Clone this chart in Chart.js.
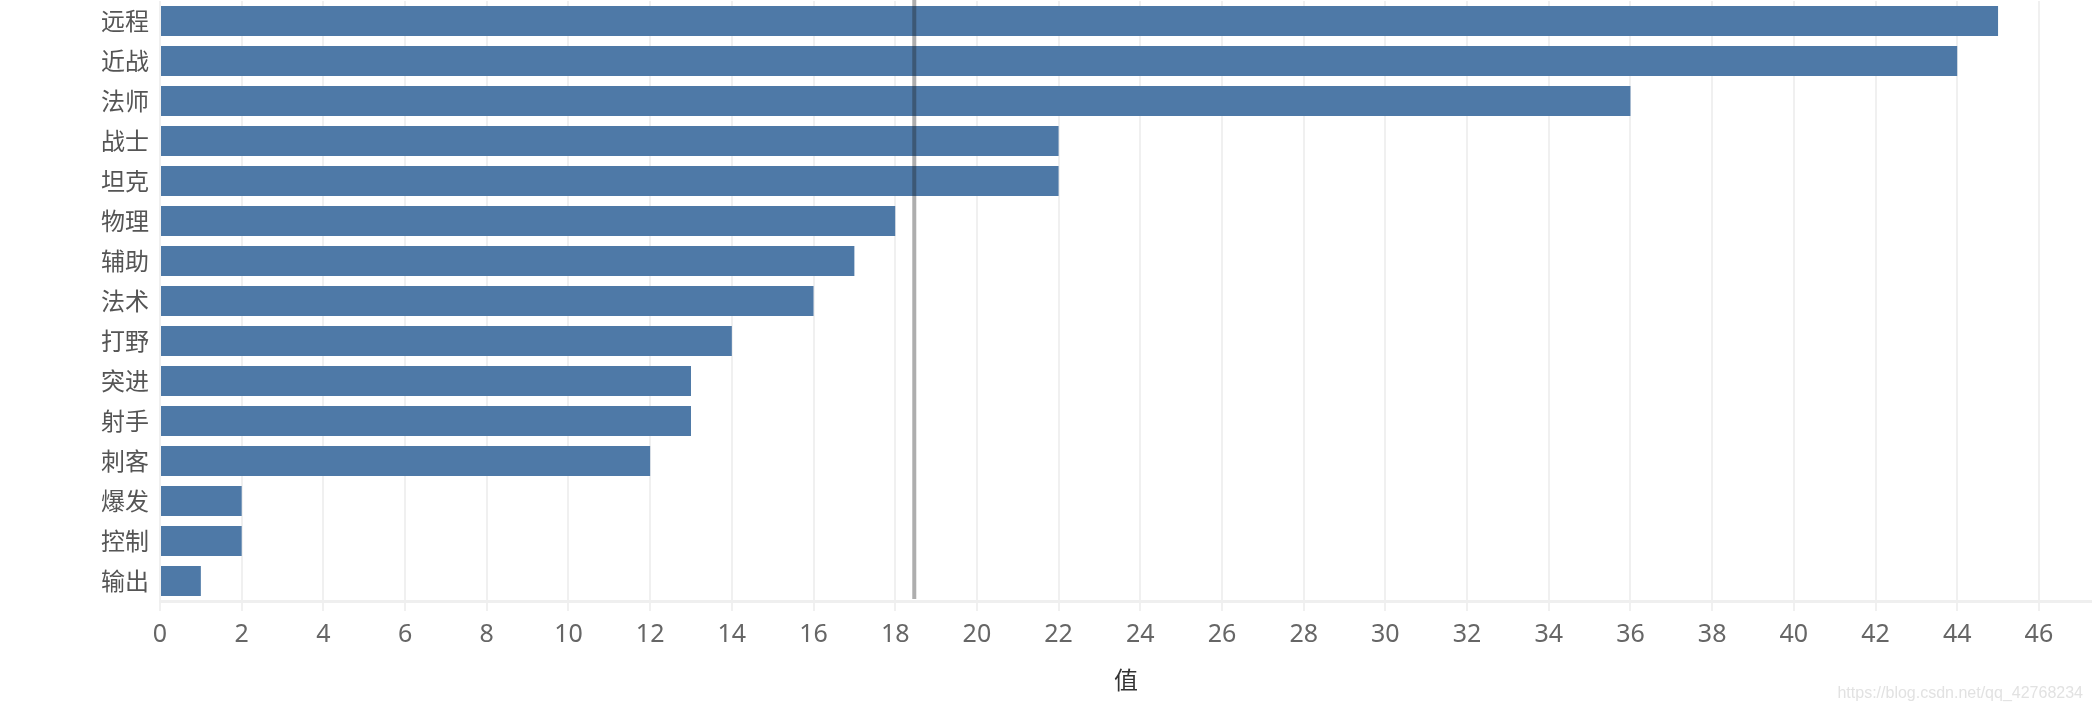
<!DOCTYPE html>
<html>
<head>
<meta charset="utf-8">
<script src="https://cdn.jsdelivr.net/npm/chart.js@4"></script>
<style>
html,body{margin:0;padding:0;background:#fff;}
#wrap{width:2092px;height:712px;position:relative;}
</style>
</head>
<body>
<div id="wrap"><canvas id="c"></canvas></div>
<script>
const categories = ['远程','近战','法师','战士','坦克','物理','辅助','法术','打野','突进','射手','刺客','爆发','控制','输出'];
const values = [45,44,36,22,22,18,17,16,14,13,13,12,2,2,1];
const axisTitle = '值';
const watermark = 'https://blog.csdn.net/qq_42768234';

const meanValue = values.reduce((a,b)=>a+b,0)/values.length;

const refLine = {
  id:'refLine',
  afterDatasetsDraw(chart){
    const {ctx, chartArea, scales} = chart;
    const x = scales.x.getPixelForValue(meanValue);
    ctx.save();
    ctx.strokeStyle = 'rgba(30,30,30,0.36)';
    ctx.lineWidth = 4;
    ctx.beginPath();
    ctx.moveTo(x, 0);
    ctx.lineTo(x, chartArea.bottom - 2);
    ctx.stroke();
    ctx.restore();
  },
  afterDraw(chart){
    const ctx = chart.ctx;
    ctx.save();
    ctx.font = '16px "Liberation Sans", Arial, sans-serif';
    ctx.fillStyle = '#e2e2e2';
    ctx.textAlign = 'right';
    ctx.textBaseline = 'middle';
    ctx.fillText(watermark, 2083, 694);
    ctx.restore();
  }
};

new Chart(document.getElementById('c'), {
  type:'bar',
  data:{
    labels:categories,
    datasets:[{
      data:values,
      backgroundColor:'#4e79a7',
      borderWidth:0,
      categoryPercentage:1.0,
      barPercentage:0.75
    }]
  },
  options:{
    indexAxis:'y',
    responsive:true,
    maintainAspectRatio:false,
    devicePixelRatio:1,
    animation:false,
    layout:{padding:{top:1,right:0,left:0,bottom:0}},
    plugins:{legend:{display:false},tooltip:{enabled:false}},
    scales:{
      x:{
        type:'linear',
        min:0,
        max:47.3,
        afterFit(s){ s.height = 111; s.paddingLeft = 0; s.paddingRight = 0; },
        grid:{
          color:'#f0f0f0',
          lineWidth:2,
          drawTicks:true,
          tickLength:10,
          tickColor:'#f0f0f0'
        },
        border:{display:true,color:'#efefef',width:3},
        ticks:{
          stepSize:2,
          includeBounds:false,
          color:'#666',
          font:{family:'"Noto Sans", "Noto Sans CJK SC", sans-serif',size:25},
          padding:9,
          maxRotation:0,
          autoSkip:false
        },
        title:{
          display:true,
          text:axisTitle,
          color:'#333',
          font:{family:'"Noto Sans CJK SC", sans-serif',size:24},
          padding:{top:0,bottom:18}
        }
      },
      y:{
        type:'category',
        afterFit(s){ s.width = 160; s.paddingTop = 0; s.paddingBottom = 0; },
        grid:{display:false,drawTicks:false,tickLength:0},
        border:{display:false},
        ticks:{
          color:'#555',
          font:{family:'"Noto Sans CJK SC", sans-serif',size:24},
          padding:11,
          autoSkip:false
        }
      }
    }
  },
  plugins:[refLine]
});
</script>
</body>
</html>
